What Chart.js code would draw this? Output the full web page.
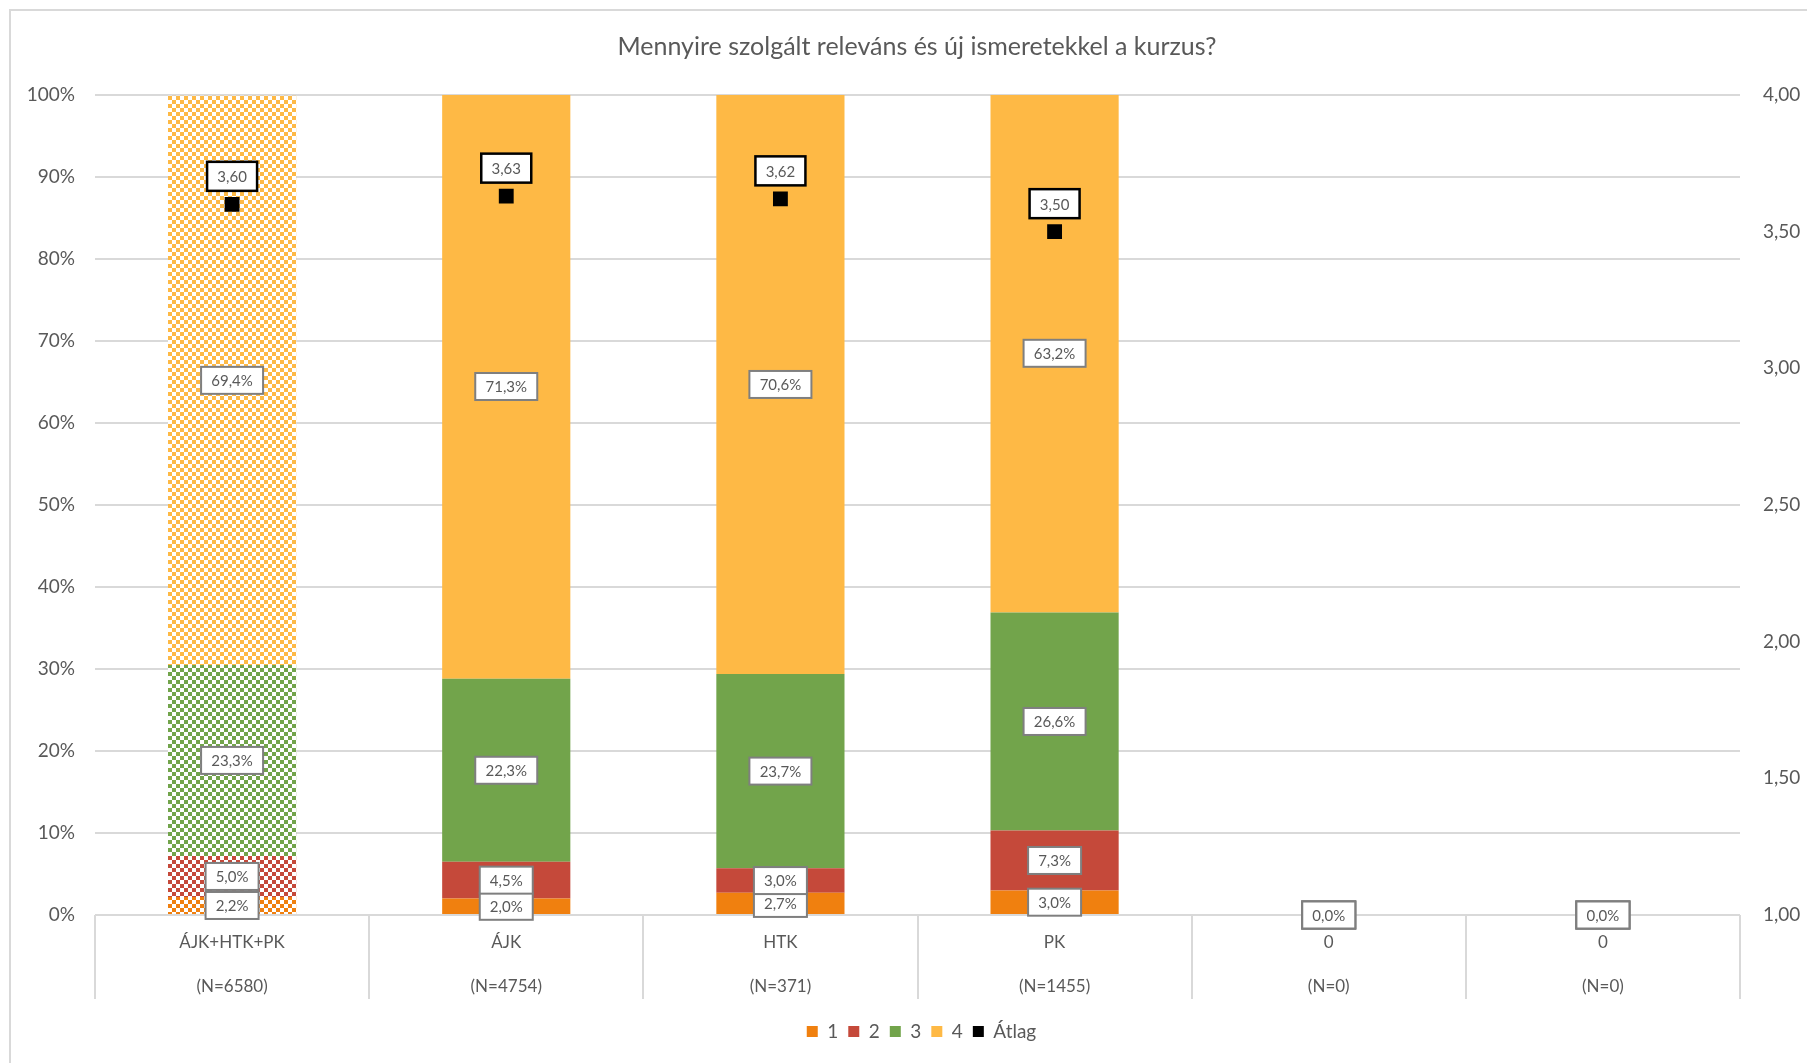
<!DOCTYPE html>
<html>
<head>
<meta charset="utf-8">
<script src="https://cdn.jsdelivr.net/npm/chart.js@4/dist/chart.umd.min.js"></script>
<style>
  html, body { margin: 0; padding: 0; background: #fff; }
  #wrap { width: 1807px; height: 1063px; position: relative; }
</style>
</head>
<body>
<div id="wrap"><canvas id="chart"></canvas></div>
<script>
const title = 'Mennyire szolgált releváns és új ismeretekkel a kurzus?';
const categories = ['ÁJK+HTK+PK', 'ÁJK', 'HTK', 'PK', '0', '0'];
const counts = ['(N=6580)', '(N=4754)', '(N=371)', '(N=1455)', '(N=0)', '(N=0)'];

const share1 = [2.2, 2.0, 2.7, 3.0, 0, 0];
const share2 = [5.0, 4.5, 3.0, 7.3, 0, 0];
const share3 = [23.3, 22.3, 23.7, 26.6, 0, 0];
const share4 = [69.4, 71.3, 70.6, 63.2, 0, 0];
const average = [3.60, 3.63, 3.62, 3.50, null, null];

const seriesNames = ['1', '2', '3', '4'];
const seriesColors = ['#F0800F', '#C5493A', '#72A44B', '#FEB945'];

const FONT = 'Lato, "Noto Sans", sans-serif';
const TEXT = '#595959';
const GRID = '#d9d9d9';

// checkerboard fill for the summary column
function checker(color) {
	const c = document.createElement('canvas');
	c.width = 8; c.height = 8;
	const g = c.getContext('2d');
	g.fillStyle = '#fff';
	g.fillRect(0, 0, 8, 8);
	g.fillStyle = color;
	g.fillRect(0, 0, 4, 4);
	g.fillRect(4, 4, 4, 4);
	return g.createPattern(c, 'repeat');
}

const comma = (v, d) => v.toFixed(d).replace('.', ',');

function barSet(i, values) {
	const pat = checker(seriesColors[i]);
	return {
		type: 'bar',
		label: seriesNames[i],
		data: values,
		yAxisID: 'y',
		stack: 's',
		backgroundColor: ctx => ctx.dataIndex === 0 ? pat : seriesColors[i],
		borderWidth: 0,
		barPercentage: 0.935,
		categoryPercentage: 0.5,
		order: 2
	};
}

const frame = {
	id: 'frame',
	afterLayout(chart) {
		// legend sits a bit right of the canvas centre
		chart.legend.left += 18;
		chart.legend.right += 18;
	},
	beforeDraw(chart) {
		const ctx = chart.ctx;
		ctx.save();
		ctx.fillStyle = '#fff';
		ctx.fillRect(0, 0, chart.width, chart.height);
		ctx.strokeStyle = GRID;
		ctx.lineWidth = 2;
		ctx.strokeRect(10, 10, chart.width + 20, chart.height + 20);
		// chart title
		ctx.fillStyle = TEXT;
		ctx.font = '25px ' + FONT;
		ctx.textAlign = 'center';
		ctx.textBaseline = 'middle';
		ctx.fillText(title, 917, 47);
		ctx.restore();
	},
	afterDraw(chart) {
		// category separators below the axis
		const ctx = chart.ctx;
		const x = chart.scales.x;
		const n = categories.length;
		const w = (x.right - x.left) / n;
		const top = chart.chartArea.bottom;
		ctx.save();
		ctx.strokeStyle = GRID;
		ctx.lineWidth = 2;
		for (let i = 0; i <= n; i++) {
			const px = Math.round(x.left + i * w);
			ctx.beginPath();
			ctx.moveTo(px, top);
			ctx.lineTo(px, top + 84);
			ctx.stroke();
		}
		ctx.restore();
	}
};

function box(ctx, text, cx, cy, h, border, lw) {
	const w = Math.round(ctx.measureText(text).width + 20);
	ctx.fillStyle = '#fff';
	ctx.fillRect(cx - w / 2, cy - h / 2, w, h);
	ctx.strokeStyle = border;
	ctx.lineWidth = lw;
	ctx.strokeRect(cx - w / 2, cy - h / 2, w, h);
	ctx.fillStyle = TEXT;
	ctx.fillText(text, cx, cy + 1);
}

const labels = {
	id: 'labels',
	afterDatasetsDraw(chart) {
		const ctx = chart.ctx;
		ctx.save();
		ctx.textAlign = 'center';
		ctx.textBaseline = 'middle';
		ctx.font = '15px ' + FONT;
		for (let d = 0; d < 4; d++) {
			const meta = chart.getDatasetMeta(d);
			meta.data.forEach((el, i) => {
				const v = chart.data.datasets[d].data[i];
				box(ctx, comma(v, 1) + '%', el.x, (el.y + el.base) / 2, 27, '#7f7f7f', 2);
			});
		}
		const am = chart.getDatasetMeta(4);
		am.data.forEach((el, i) => {
			const v = average[i];
			if (v == null) return;
			box(ctx, comma(v, 2), el.x, el.y - 28, 29, '#000', 2.5);
		});
		ctx.restore();
	}
};

const data = {
	labels: categories.map((c, i) => [c, counts[i]]),
	datasets: [
		barSet(0, share1),
		barSet(1, share2),
		barSet(2, share3),
		barSet(3, share4),
		{
			type: 'line',
			label: 'Átlag',
			data: average,
			yAxisID: 'y2',
			showLine: false,
			pointStyle: 'rect',
			pointRadius: 10.5,
			pointHoverRadius: 10.5,
			backgroundColor: '#000',
			borderColor: '#000',
			borderWidth: 0,
			order: 1
		}
	]
};

const config = {
	type: 'bar',
	data: data,
	plugins: [frame, labels],
	options: {
		responsive: false,
		animation: false,
		events: [],
		layout: { padding: { left: 0, right: 0, top: 95, bottom: 12 } },
		plugins: {
			title: { display: false },
			legend: {
				position: 'bottom',
				labels: {
					color: TEXT,
					font: { family: FONT, size: 19 },
					boxWidth: 11,
					boxHeight: 11,
					padding: 10,
					sort: (a, b) => a.datasetIndex - b.datasetIndex,
					generateLabels: chart => {
						const items = Chart.defaults.plugins.legend.labels.generateLabels(chart);
						items.forEach(it => {
							if (it.datasetIndex < 4) it.fillStyle = seriesColors[it.datasetIndex];
							it.strokeStyle = it.fillStyle;
							it.lineWidth = 0;
						});
						return items;
					}
				}
			},
			tooltip: { enabled: false }
		},
		scales: {
			x: {
				stacked: true,
				grid: { display: false, drawTicks: false },
				border: { display: false },
				ticks: {
					color: TEXT,
					font: { family: FONT, size: 17, lineHeight: 2.55 },
					padding: 6,
					maxRotation: 0
				},
				afterFit: s => { s.height = 97; }
			},
			y: {
				stacked: true,
				min: 0,
				max: 100,
				position: 'left',
				grid: { color: GRID, lineWidth: 2, drawTicks: false },
				border: { display: false },
				ticks: {
					stepSize: 10,
					color: TEXT,
					font: { family: FONT, size: 19 },
					padding: 20,
					callback: v => v + '%'
				},
				afterFit: s => { s.width = 95; }
			},
			y2: {
				min: 1,
				max: 4,
				position: 'right',
				grid: { display: false, drawTicks: false },
				border: { display: false },
				ticks: {
					stepSize: 0.5,
					color: TEXT,
					font: { family: FONT, size: 19 },
					padding: 23,
					callback: v => comma(v, 2)
				},
				afterFit: s => { s.width = 67; }
			}
		}
	}
};

const canvas = document.getElementById('chart');
canvas.width = 1807;
canvas.height = 1063;
new Chart(canvas, config);
</script>
</body>
</html>
